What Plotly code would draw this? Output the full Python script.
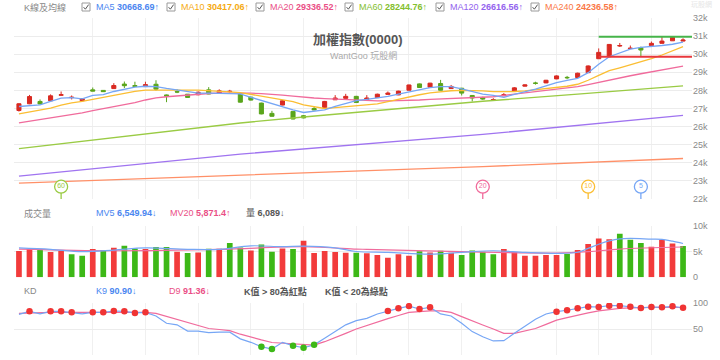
import plotly.graph_objects as go

# ---------------- data ----------------
days = list(range(64))

opens = [26890, 27260, 27390, 27425, 27730, 27600, 27430, 28030, 28000, 28100,
         28350, 28270, 28210, 28340, 27750, 27930, 27790, 27760, 28030, 27830,
         27930, 27810, 27630, 27300, 26730, 27190, 26840, 26600, 27000, 27060,
         27480, 27560, 27670, 27500, 27600, 27780, 27750, 28010, 28360, 28180,
         28380, 28100, 28120, 27720, 27610, 27460, 27700, 27975, 28235, 28410,
         28415, 28635, 28720, 28710, 28980, 29750, 29860, 30450, 30310, 30360,
         30470, 30600, 30740, 30725]
highs = [27300, 27750, 27500, 27780, 27940, 27720, 27560, 28160, 28020, 28400,
         28490, 28480, 28480, 28560, 27770, 28070, 27800, 27940, 28180, 28060,
         28030, 27830, 27650, 27320, 26870, 27470, 26860, 26640, 27130, 27420,
         27740, 27810, 27700, 27740, 27820, 27940, 27980, 28320, 28380, 28420,
         28580, 28300, 28140, 27740, 27650, 27570, 27850, 28180, 28330, 28480,
         28580, 28830, 28800, 28980, 29380, 30320, 30560, 30620, 30480, 30420,
         30700, 30960, 30950, 30880]
lows = [26830, 27240, 27230, 27410, 27720, 27500, 27400, 27950, 27910, 28090,
        28130, 28200, 28200, 27990, 27350, 27850, 27600, 27730, 27790, 27820,
        27880, 27330, 27440, 26680, 26550, 27180, 26400, 26460, 26900, 27050,
        27470, 27550, 27310, 27490, 27590, 27770, 27740, 28000, 28150, 28170,
        28000, 28090, 27720, 27390, 27480, 27420, 27690, 27960, 28220, 28320,
        28400, 28620, 28620, 28700, 28970, 29740, 29850, 30400, 30290, 29900,
        30460, 30590, 30730, 30710]
closes = [27260, 27660, 27250, 27700, 27760, 27620, 27540, 27960, 27930, 28270,
          28260, 28220, 28320, 28070, 27690, 27910, 27610, 27900, 27800, 27975,
          27950, 27350, 27465, 26700, 26570, 27425, 26420, 26480, 26920, 27390,
          27580, 27670, 27330, 27580, 27790, 27850, 27960, 28300, 28160, 28400,
          28010, 28220, 27850, 27580, 27520, 27490, 27760, 28140, 28305, 28390,
          28560, 28800, 28700, 28950, 29350, 30100, 30540, 30480, 30330, 30230,
          30600, 30725, 30930, 30780]

ma5 = [27110, 27160, 27205, 27390, 27570, 27600, 27535, 27720, 27770, 27940,
       28060, 28180, 28230, 28210, 28110, 28010, 27930, 27850, 27850, 27850,
       27820, 27810, 27620, 27440, 27260, 27080, 26930, 26780, 26850, 26930,
       27120, 27300, 27440, 27500, 27570, 27670, 27800, 27930, 28060, 28150,
       28210, 28210, 28080, 27920, 27800, 27720, 27620, 27780, 27920, 28065,
       28250, 28430, 28550, 28670, 28980, 29450, 29860, 30050, 30280, 30380,
       30410, 30480, 30550, 30669]
ma10 = [26700, 26810, 26920, 27020, 27180, 27310, 27390, 27500, 27620, 27740,
        27850, 27950, 28010, 28020, 28030, 28030, 28020, 28010, 27990, 27965,
        27920, 27880, 27780, 27700, 27600, 27520, 27380, 27200, 27080, 27000,
        27050, 27110, 27160, 27210, 27260, 27380, 27520, 27640, 27760, 27860,
        27930, 27980, 28000, 28000, 27970, 27930, 27920, 27940, 27970, 28030,
        28080, 28140, 28230, 28340, 28560, 28830, 29090, 29250, 29405, 29580,
        29750, 29955, 30180, 30417]
ma20 = [26200, 26290, 26380, 26460, 26560, 26660, 26760, 26880, 26990, 27090,
        27200, 27330, 27470, 27590, 27650, 27700, 27740, 27780, 27830, 27850,
        27860, 27870, 27850, 27820, 27790, 27740, 27680, 27620, 27580, 27550,
        27520, 27490, 27460, 27430, 27425, 27420, 27425, 27440, 27470, 27500,
        27520, 27540, 27560, 27580, 27600, 27650, 27720, 27790, 27860, 27920,
        27975, 28060, 28140, 28210, 28320, 28450, 28560, 28680, 28810, 28920,
        29030, 29140, 29240, 29336]
ma60_x = [0, 21, 27, 44, 53, 63]
ma60 = [24785, 26200, 26530, 27400, 27790, 28245]
ma120_x = [0, 21, 44, 63]
ma120 = [23260, 24480, 25570, 26617]
ma240_x = [0, 21, 44, 63]
ma240 = [22880, 23320, 23790, 24237]

hi_line = 30960
lo_line = 29860
range_start_day = 55

ma_marker_days = [4, 44, 54, 59]
ma_marker_labels = ["60", "20", "10", "5"]

volume = [5086, 5473, 5280, 4893, 5086, 4448, 4190, 5473, 5280, 5730,
          6117, 5602, 5473, 5860, 5860, 4957, 4700, 4828, 5538, 5538,
          6633, 5795, 5215, 6375, 4957, 5602, 5473, 7085, 4700, 5086,
          4893, 4764, 4764, 4640, 4313, 3790, 4448, 4190, 5028, 4828,
          5144, 4764, 4313, 5215, 4957, 4448, 5473, 4893, 4190, 4190,
          4313, 4313, 4506, 5280, 6440, 7540, 7350, 8430, 7270, 6633,
          5920, 7215, 6570, 6089]
mv5_x = [0, 3, 6, 9, 12, 16, 19, 22, 25, 27, 30, 32, 35, 39, 42, 45, 48, 51, 53, 54, 55, 56, 57, 58, 60, 61, 62, 63]
mv5 = [5700, 5420, 4980, 5280, 5700, 5420, 5420, 6100, 5930, 6050, 5700, 5000, 4830, 4500, 4830, 5150, 4830, 4640, 4850, 5600, 6400, 7050, 7450, 7540, 7400, 7350, 7000, 6550]
mv20_x = [0, 9, 19, 27, 32, 33, 42, 51, 54, 57, 63]
mv20 = [5470, 5150, 5410, 5925, 5470, 5415, 4957, 4700, 4957, 5473, 5871]

k9 = [78, 84, 79, 84, 84, 82, 79, 82, 82, 84.6,
      84, 81, 82, 75, 61, 58, 46, 46, 43, 44,
      44, 31, 24.4, 16, 11.5, 24.4, 18, 14, 19.5, 32,
      45, 58, 66, 70.5, 78.8, 84.6, 89.7, 94, 88.5, 91.6,
      79, 75, 61, 45, 35, 27, 27.5, 41.7, 55.8, 68.6,
      78.8, 83.3, 86, 89.7, 93, 92.3, 94.9, 94.9, 93, 90.4,
      92.3, 91.7, 93.6, 90.9]
d9 = [80, 81, 81, 82, 82, 82, 82, 82, 82, 82,
      83, 82, 82, 80, 74, 68, 62, 56, 51, 49,
      47, 40, 34, 29, 24, 23, 22.4, 21, 19.2, 25.6,
      33, 41.7, 50, 57, 64, 70, 76, 82, 83.5, 85,
      85, 82, 73.7, 65, 57.7, 50, 41.7, 41.7, 46, 51,
      59, 67, 72, 77, 81, 85, 87.5, 89.7, 90.7, 91.7,
      91.7, 91.6, 91.5, 91.36]

price_ticks = [22000, 23000, 24000, 25000, 26000, 27000, 28000, 29000, 30000, 31000, 32000]
price_tick_text = ["22k", "23k", "24k", "25k", "26k", "27k", "28k", "29k", "30k", "31k", "32k"]
vol_ticks = [0, 5000, 10000]
vol_tick_text = ["0", "5k", "10k"]
kd_ticks = [0, 50, 100]
kd_tick_text = ["0", "50", "100"]
week_lines = [7, 12, 17, 22, 27, 32, 37, 42, 51, 55, 60]

# ---------------- style ----------------
W, H = 720, 360
RED_C, GRN_C = "#d92a22", "#5aa51c"
RED_V, GRN_V = "#f23b3b", "#3db817"
C5, C10, C20, C60, C120, C240 = "#76a6f5", "#fbbe33", "#f06b9c", "#9acb44", "#a074f0", "#ff9068"
T5, T10, T20, T60, T120, T240 = "#4a86f0", "#f5aa10", "#ea4f86", "#84c02e", "#9363ee", "#fa7846"
GRID = "#f0f0f0"
FONT = "Liberation Sans, Noto Sans CJK TC, sans-serif"

def px_x(p):
    return p / W

def px_y(p):
    return 1 - p / H

PRICE_DOM = [px_y(199), px_y(18)]
VOL_DOM = [px_y(277.3), px_y(225.7)]
KD_DOM = [px_y(355), px_y(303)]

fig = go.Figure()

fig.add_trace(go.Candlestick(
    x=days, open=opens, high=highs, low=lows, close=closes,
    increasing=dict(line=dict(color=RED_C, width=1), fillcolor=RED_C),
    decreasing=dict(line=dict(color=GRN_C, width=1), fillcolor=GRN_C),
    xaxis="x", yaxis="y", hoverinfo="skip", showlegend=False))

for xs, ys, col in [(ma240_x, ma240, C240), (ma120_x, ma120, C120), (ma60_x, ma60, C60),
                    (days, ma20, C20), (days, ma10, C10), (days, ma5, C5)]:
    fig.add_trace(go.Scatter(x=xs, y=ys, mode="lines", line=dict(color=col, width=1.3),
                             xaxis="x", yaxis="y", hoverinfo="skip", showlegend=False))

# MA window start markers
marker_cols = [C60, C20, C10, C5]
MARK_Y = 22680
for d, lab, col in zip(ma_marker_days, ma_marker_labels, marker_cols):
    fig.add_shape(type="line", xref="x", yref="y", x0=d, x1=d, y0=22000, y1=MARK_Y - 330,
                  line=dict(color=col, width=1.3))
fig.add_trace(go.Scatter(
    x=ma_marker_days, y=[MARK_Y] * len(ma_marker_days), mode="markers+text",
    text=ma_marker_labels, textposition="middle center",
    textfont=dict(size=7, color=marker_cols, family=FONT),
    marker=dict(size=13, color="white", line=dict(color=marker_cols, width=1.3)),
    xaxis="x", yaxis="y", hoverinfo="skip", showlegend=False))

# high / low lines
fig.add_shape(type="line", xref="x", yref="y", x0=range_start_day, x1=63.85, y0=hi_line, y1=hi_line,
              line=dict(color="#46b44a", width=2))
fig.add_shape(type="line", xref="x", yref="y", x0=range_start_day, x1=63.85, y0=lo_line, y1=lo_line,
              line=dict(color="#e8383d", width=2))

# volume
vol_cols = []
for i, c in enumerate(closes):
    prev = closes[i - 1] if i > 0 else opens[0]
    vol_cols.append(RED_V if c >= prev else GRN_V)
fig.add_trace(go.Bar(x=days, y=volume, marker=dict(color=vol_cols, line=dict(width=0)), width=0.54,
                     xaxis="x2", yaxis="y2", hoverinfo="skip", showlegend=False))
fig.add_trace(go.Scatter(x=mv20_x, y=mv20, mode="lines", line=dict(color=C20, width=1.2, shape="spline"),
                         xaxis="x2", yaxis="y2", hoverinfo="skip", showlegend=False))
fig.add_trace(go.Scatter(x=mv5_x, y=mv5, mode="lines", line=dict(color=C5, width=1.2, shape="spline"),
                         xaxis="x2", yaxis="y2", hoverinfo="skip", showlegend=False))

# KD
fig.add_trace(go.Scatter(x=days, y=d9, mode="lines", line=dict(color=C20, width=1.2),
                         xaxis="x3", yaxis="y3", hoverinfo="skip", showlegend=False))
fig.add_trace(go.Scatter(x=days, y=k9, mode="lines", line=dict(color=C5, width=1.2),
                         xaxis="x3", yaxis="y3", hoverinfo="skip", showlegend=False))
hi_d = [d for d, k in zip(days, k9) if k > 80]
hi_k = [k for k in k9 if k > 80]
lo_d = [d for d, k in zip(days, k9) if k < 20]
lo_k = [k for k in k9 if k < 20]
fig.add_trace(go.Scatter(x=hi_d, y=hi_k, mode="markers", marker=dict(color="#f03434", size=6.5),
                         xaxis="x3", yaxis="y3", hoverinfo="skip", showlegend=False))
fig.add_trace(go.Scatter(x=lo_d, y=lo_k, mode="markers", marker=dict(color="#3db817", size=6.5),
                         xaxis="x3", yaxis="y3", hoverinfo="skip", showlegend=False))

# ---------------- layout ----------------
XDOM = [px_x(14), px_x(692)]
XR = [-0.47, 63.85]
xcommon = dict(domain=XDOM, range=XR, tickvals=week_lines, showticklabels=False, ticks="",
               showgrid=True, gridcolor=GRID, gridwidth=1, zeroline=False, showline=False,
               fixedrange=True)
ycommon = dict(side="right", ticks="", showgrid=True, gridcolor="#ececec", gridwidth=1,
               zeroline=False, showline=False, showticklabels=True, automargin=False,
               tickfont=dict(size=9, color="#8a8a8a", family=FONT), fixedrange=True)

fig.update_layout(
    width=W, height=H, margin=dict(l=0, r=0, t=0, b=0, autoexpand=False),
    paper_bgcolor="white", plot_bgcolor="white", showlegend=False,
    font=dict(family=FONT, size=9, color="#888"),
    boxgap=0.45,
    xaxis=dict(anchor="y", rangeslider=dict(visible=False), **xcommon),
    xaxis2=dict(anchor="y2", matches="x", **xcommon),
    xaxis3=dict(anchor="y3", matches="x", **xcommon),
    yaxis=dict(anchor="x", domain=PRICE_DOM, range=[22000, 32000],
               tickvals=price_ticks, ticktext=price_tick_text, **ycommon),
    yaxis2=dict(anchor="x2", domain=VOL_DOM, range=[0, 10000],
                tickvals=vol_ticks, ticktext=vol_tick_text, **ycommon),
    yaxis3=dict(anchor="x3", domain=KD_DOM, range=[0, 100],
                tickvals=kd_ticks, ticktext=kd_tick_text, **ycommon),
)

def ann(x, y, text, color="#888", size=9, xanchor="left"):
    fig.add_annotation(x=px_x(x), y=px_y(y), xref="paper", yref="paper", text=text,
                       showarrow=False, xanchor=xanchor, yanchor="middle",
                       font=dict(size=size, color=color, family=FONT))

# top legend row
ROW1 = 7
ann(22, ROW1, "K線及均線")
legend_items = [
    (82, 94, "MA5 <b>30668.69</b>↑", T5),
    (167, 179, "MA10 <b>30417.06</b>↑", T10),
    (256, 268, "MA20 <b>29336.52</b>↑", T20),
    (345, 357, "MA60 <b>28244.76</b>↑", T60),
    (436, 448, "MA120 <b>26616.56</b>↑", T120),
    (531, 543, "MA240 <b>24236.58</b>↑", T240),
]
for cbx, tx, txt, col in legend_items:
    fig.add_shape(type="rect", xref="paper", yref="paper",
                  x0=px_x(cbx), x1=px_x(cbx + 8), y0=px_y(ROW1 + 4), y1=px_y(ROW1 - 4),
                  line=dict(color="#9a9a9a", width=1), fillcolor="white")
    path = "M {} {} L {} {} L {} {}".format(
        px_x(cbx + 1.6), px_y(ROW1 + 0.2), px_x(cbx + 3.4), px_y(ROW1 + 2.2),
        px_x(cbx + 6.6), px_y(ROW1 - 2.4))
    fig.add_shape(type="path", xref="paper", yref="paper", path=path,
                  line=dict(color="#555", width=1))
    ann(tx, ROW1, txt, color=col)

# title
ann(358, 39, "<b>加權指數(0000)</b>", color="#555", size=13, xanchor="center")
ann(363, 55, "WantGoo 玩股網", color="#aaa", size=9, xanchor="center")
ann(701, 5, "玩股網", color="#e6e6e6", size=7, xanchor="center")

# volume row
ROW2 = 213
ann(22, ROW2, "成交量")
ann(94, ROW2, "MV5 <b>6,549.94</b>↓", color=T5)
ann(168, ROW2, "MV20 <b>5,871.4</b>↑", color=T20)
ann(244, ROW2, "量 <b>6,089</b>↓", color="#555")

# KD row
ROW3 = 291
ann(22, ROW3, "KD")
ann(94, ROW3, "K9 <b>90.90</b>↓", color=T5)
ann(167, ROW3, "D9 <b>91.36</b>↓", color=T20)
ann(242, ROW3, "<b>K值 &gt; 80為紅點</b>", color="#555")
ann(323, ROW3, "<b>K值 &lt; 20為綠點</b>", color="#555")

fig.write_html("out.html", config={"displayModeBar": False},
               post_script="document.body.style.margin='0';")
